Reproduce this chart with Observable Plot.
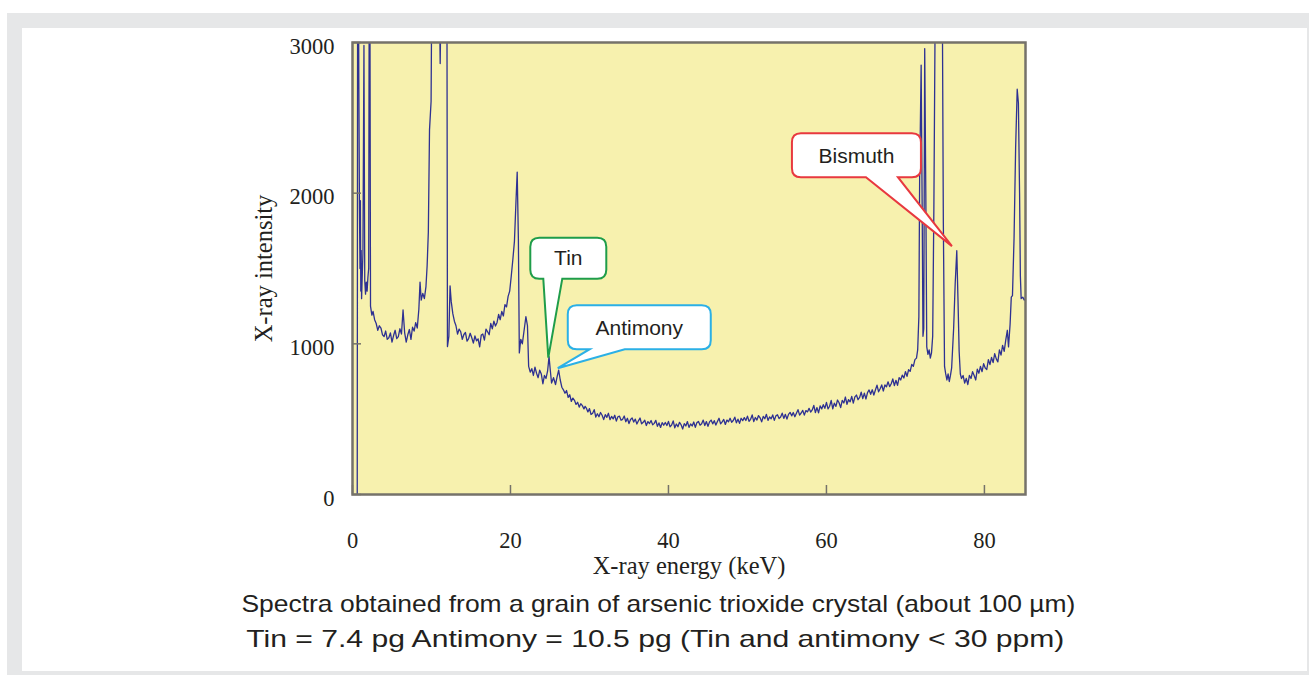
<!DOCTYPE html>
<html><head><meta charset="utf-8">
<script src="https://cdn.jsdelivr.net/npm/d3@7"></script>
<script src="https://cdn.jsdelivr.net/npm/@observablehq/plot@0.6"></script>
<style>
html,body{margin:0;padding:0;background:#fff;width:1309px;height:675px;overflow:hidden;position:relative;}
#outer{position:absolute;left:7px;top:13px;width:1302px;height:662px;background:#e6e7e8;}
#inner{position:absolute;left:22px;top:28px;width:1285px;height:643px;background:#fff;}
#chart{position:absolute;left:0;top:0;}
.cap{position:absolute;width:1000px;text-align:center;font-family:"Liberation Sans Narrow","Liberation Sans",Arial,sans-serif;font-size:24px;line-height:24px;color:#231f20;white-space:nowrap;}
.cap span{display:inline-block;transform-origin:50% 50%;}
</style></head><body>
<div id="outer"></div><div id="inner"></div>
<div id="chart"></div>
<div class="cap" style="left:158px;top:592px"><span id="cap1">Spectra obtained from a grain of arsenic trioxide crystal (about 100 µm)</span></div>
<div class="cap" style="left:155px;top:627px"><span id="cap2">Tin = 7.4 pg Antimony = 10.5 pg (Tin and antimony &lt; 30 ppm)</span></div>
<script>
// ---- data ----
const xTicks = [0, 20, 40, 60, 80];
const yTicks = [0, 1000, 2000, 3000];
const xLabel = "X-ray energy (keV)";
const yLabel = "X-ray intensity";

// [energy keV, X-ray intensity] (3500 = off scale)
const spectrum = [
[0.6,0],[0.65,3500],[0.75,3500],[0.8,2750],[0.88,1900],[0.95,1500],[1.0,1950],[1.05,1350],[1.1,1620],[1.15,1300],[1.25,1480],[1.32,1600],[1.45,2980],[1.55,1420],[1.65,1330],[1.75,1410],[1.85,1350],[1.95,1440],[2.05,1500],[2.12,3500],[2.2,3500],[2.28,1250],
[2.45,1190],[2.6,1215],[2.8,1160],[3.0,1135],[3.2,1090],[3.4,1120],[3.6,1105],[3.8,1060],[4.0,1048],[4.2,1085],[4.4,1030],[4.6,1040],[4.8,1072],[5.0,1012],[5.2,1055],[5.4,1090],[5.6,1035],[5.8,1048],[6.0,1100],[6.2,1065],[6.4,1225],[6.6,1075],[6.8,1012],[7.0,1060],[7.2,1095],[7.4,1030],[7.6,1110],[7.8,1085],[8.0,1140],[8.2,1105],[8.4,1230],[8.55,1410],[8.7,1290],[8.9,1335],[9.1,1300],[9.3,1380],[9.45,1520],[9.6,1740],[9.75,2420],[9.95,2610],[10.05,3500],[10.95,3500],[11.1,2860],[11.25,3500],[11.95,3500],
[12.02,982],[12.2,1050],[12.35,1385],[12.5,1280],[12.7,1200],[12.9,1150],[13.1,1120],[13.3,1065],[13.5,1098],[13.7,1080],[13.9,1030],[14.1,1062],[14.3,1075],[14.5,1018],[14.7,1035],[14.9,1070],[15.1,1040],[15.3,1005],[15.5,1052],[15.7,1020],[15.9,1033],[16.1,980],[16.3,1058],[16.5,1065],[16.7,1025],[16.9,1098],[17.1,1080],[17.3,1060],[17.5,1135],[17.7,1100],[17.9,1150],[18.1,1118],[18.3,1142],[18.5,1195],[18.7,1160],[18.9,1215],[19.1,1185],[19.3,1260],[19.5,1245],[19.7,1315],[19.9,1350],[20.1,1450],[20.3,1560],[20.5,1680],[20.7,1950],[20.85,2140],[21.0,1700],
[21.12,940],[21.3,1030],[21.5,1000],[21.75,1100],[21.95,1180],[22.15,1120],[22.3,850],[22.5,812],[22.7,835],[22.9,790],[23.1,845],[23.3,805],[23.5,775],[23.7,825],[23.9,800],[24.1,735],[24.3,790],[24.5,770],[24.7,820],[24.88,915],[25.05,820],[25.2,740],[25.45,775],[25.7,730],[25.9,780],[26.1,825],[26.3,760],[26.5,712],[26.7,695],[26.9,672],[27.1,690],[27.3,645],[27.5,662],[27.7,618],[27.9,640],[28.1,625],[28.3,598],[28.5,612],[28.7,580],[28.9,602],[29.1,590],[29.3,568],[29.45,585],
[29.6,574],[29.8,548],[30.0,570],[30.2,531],[30.4,539],[30.6,563],[30.8,514],[31.0,536],[31.2,516],[31.4,544],[31.6,526],[31.8,497],[32.0,530],[32.2,512],[32.4,539],[32.6,497],[32.8,518],[33.0,502],[33.2,526],[33.4,487],[33.6,516],[33.8,520],[34.0,493],[34.2,499],[34.4,521],[34.6,483],[34.8,506],[35.0,471],[35.2,498],[35.4,508],[35.6,481],[35.8,500],[36.0,468],[36.2,489],[36.4,508],[36.6,469],[36.8,479],[37.0,493],[37.2,458],[37.4,484],[37.6,471],[37.8,491],[38.0,462],[38.2,472],[38.4,492],[38.6,453],[38.8,475],[39.0,445],[39.2,477],[39.4,460],
[39.6,478],[39.8,458],[40.0,485],[40.2,449],[40.4,461],[40.6,488],[40.8,443],[41.0,468],[41.2,450],[41.4,479],[41.6,463],[41.8,435],[42.0,470],[42.2,455],[42.4,484],[42.6,445],[42.8,468],[43.0,455],[43.2,481],[43.4,446],[43.6,477],[43.8,485],[44.0,460],[44.2,469],[44.4,494],[44.6,458],[44.8,484],[45.0,452],[45.2,482],[45.4,494],[45.6,469],[45.8,490],[46.0,461],[46.2,484],[46.4,506],[46.6,469],[46.8,482],[47.0,498],[47.2,465],[47.4,494],[47.6,483],[47.8,506],[48.0,479],[48.2,491],[48.4,513],[48.6,476],[48.8,500],[49.0,472],[49.2,506],[49.4,490],
[49.6,510],[49.8,491],[50.0,520],[50.2,486],[50.4,499],[50.6,528],[50.8,484],[51.0,511],[51.2,494],[51.4,524],[51.6,509],[51.8,482],[52.0,518],[52.2,503],[52.4,532],[52.6,492],[52.8,515],[53.0,502],[53.2,528],[53.4,492],[53.6,522],[53.8,529],[54.0,504],[54.2,514],[54.4,540],[54.6,505],[54.8,532],[55.0,501],[55.2,532],[55.4,545],[55.6,522],[55.8,544],[56.0,516],[56.2,540],[56.4,563],[56.6,527],[56.8,541],[57.0,558],[57.2,527],[57.4,557],[57.6,548],[57.8,572],[58.0,547],[58.2,561],[58.4,591],[58.6,544],[58.8,577],[59.0,542],[59.2,588],[59.4,568],
[59.6,596],[59.8,572],[60.0,611],[60.2,568],[60.4,586],[60.6,625],[60.8,569],[61.0,606],[61.2,585],[61.4,627],[61.6,609],[61.8,577],[62.0,625],[62.2,607],[62.4,647],[62.6,599],[62.8,630],[63.0,615],[63.2,651],[63.4,606],[63.6,648],[63.8,660],[64.0,629],[64.2,644],[64.4,679],[64.6,636],[64.8,673],[65.0,634],[65.2,676],[65.4,694],[65.6,665],[65.8,695],[66.0,660],[66.2,694],[66.4,726],[66.6,682],[66.8,702],[67.0,727],[67.2,687],[67.4,727],[67.6,715],[67.8,748],[68.0,716],[68.2,735],[68.4,767],[68.6,723],[68.8,758],[69.0,725],[69.2,775],[69.4,760],[69.6,792],[69.8,773],[70.0,816],[70.2,784],[70.4,828],[70.6,817],[70.8,864],[71.0,850],[71.2,895],[71.4,905],
[71.55,960],[71.7,1180],[71.8,2100],[71.99,2850],[72.12,1900],[72.22,1050],[72.32,1100],[72.44,2960],[72.58,2000],[72.7,980],[72.85,930],[73.0,960],[73.15,905],[73.3,940],[73.45,1050],[73.6,1900],[73.8,3500],[74.65,3500],[74.8,1800],[74.95,850],[75.1,800],[75.25,760],[75.4,800],[75.55,750],[75.7,790],[75.85,840],[76.1,1100],[76.3,1400],[76.5,1618],[76.65,1300],[76.8,950],[76.95,800],[77.1,770],[77.3,790],[77.5,740],[77.7,770],[77.9,730],
[78.1,790],[78.3,770],[78.5,815],[78.7,790],[78.9,760],[79.1,832],[79.3,805],[79.5,850],[79.7,815],[79.9,868],[80.1,840],[80.3,830],[80.5,895],[80.7,862],[80.9,910],[81.1,875],[81.3,935],[81.5,900],[81.7,880],[81.9,960],[82.1,925],[82.3,990],[82.5,950],[82.7,1025],[82.9,1090],[83.05,980],[83.25,1130],[83.4,1310],[83.55,1320],[83.75,1700],[83.95,2300],[84.15,2690],[84.3,2600],[84.45,2000],[84.55,1450],[84.65,1300],[84.85,1310],[85.05,1290],[85.2,1300]
];

// annotation labels and the spectrum points they point at [keV, intensity]
const calloutLabels = ["Tin", "Antimony", "Bismuth"];
const calloutTips = [[24.85, 905], [26.05, 835], [75.95, 1645]];

// ---- styles ----
const calloutStyle = {
  Tin:      {color: "#1f9d4a", dx: -18, dy: -120, w: 76,  h: 41, base: [13, 32]},
  Antimony: {color: "#2bb0e6", dx: 10,  dy: -63,  w: 143, h: 44, base: [22, 57]},
  Bismuth:  {color: "#e8393f", dx: -160, dy: -113, w: 129, h: 44, base: [74, 106]}
};
const serif = "'Liberation Serif','Times New Roman',serif";
const sans = "'Liberation Sans',Arial,sans-serif";
const bg = "#f7f1ae";
const frameColor = "#75726a";

function callouts(index, scales) {
  const g = d3.create("svg:g");
  calloutLabels.forEach((label, i) => {
    const s = calloutStyle[label];
    const tx = scales.x(calloutTips[i][0]), ty = scales.y(calloutTips[i][1]);
    const L = tx + s.dx, T = ty + s.dy, R = L + s.w, B = T + s.h, r = 9;
    const b1 = L + s.base[0], b2 = L + s.base[1];
    const p = `M${L+r},${T}H${R-r}Q${R},${T} ${R},${T+r}V${B-r}Q${R},${B} ${R-r},${B}H${b2}L${tx},${ty}L${b1},${B}H${L+r}Q${L},${B} ${L},${B-r}V${T+r}Q${L},${T} ${L+r},${T}Z`;
    g.append("path").attr("d", p).attr("fill", "#fff").attr("stroke", s.color)
      .attr("stroke-width", 2).attr("stroke-linejoin", "miter");
    g.append("text").attr("x", L + s.w / 2).attr("y", T + s.h / 2).attr("dy", "0.35em")
      .attr("text-anchor", "middle").attr("font-family", sans).attr("font-size", 21)
      .attr("fill", "#231f20").text(label);
  });
  return g.node();
}

const plot = Plot.plot({
  width: 1309,
  height: 590,
  marginLeft: 352,
  marginRight: 284,
  marginTop: 42,
  marginBottom: 96,
  style: {background: "transparent", fontFamily: serif, fontSize: "22px", color: "#231f20", overflow: "visible"},
  x: {domain: [0, 85.2]},
  y: {domain: [0, 3000]},
  marks: [
    Plot.frame({fill: bg, stroke: null}),
    Plot.line(spectrum, {x: d => d[0], y: d => d[1], stroke: "#2e3192", strokeWidth: 1.3, clip: true}),
    Plot.ruleX(xTicks, {x: d => d, stroke: frameColor, strokeWidth: 1.5, insetTop: 443}),
    Plot.ruleY(yTicks, {y: d => d, stroke: frameColor, strokeWidth: 1.5, insetRight: 664}),
    Plot.frame({stroke: frameColor, strokeWidth: 2.5}),
    Plot.axisX(xTicks, {anchor: "bottom", tickSize: 0, tickPadding: 38, label: null, fontSize: 22.5, tickFormat: d => `${d}`}),
    Plot.axisY(yTicks, {anchor: "left", tickSize: 0, tickPadding: 18, dy: 4, label: null, fontSize: 22.5, tickFormat: d => `${d}`}),
    Plot.text([xLabel], {frameAnchor: "bottom", dy: 79, text: d => d, fontSize: 24.5}),
    Plot.text([yLabel], {frameAnchor: "left", dx: -88, rotate: -90, textAnchor: "middle", text: d => d, fontSize: 24.5}),
    callouts
  ]
});
document.getElementById("chart").appendChild(plot);

// fit caption widths to the reference lines
[["cap1", 834], ["cap2", 818]].forEach(([id, w]) => {
  const el = document.getElementById(id);
  const cw = el.getBoundingClientRect().width;
  el.style.transform = `scaleX(${w / cw})`;
});
</script>
</body></html>
